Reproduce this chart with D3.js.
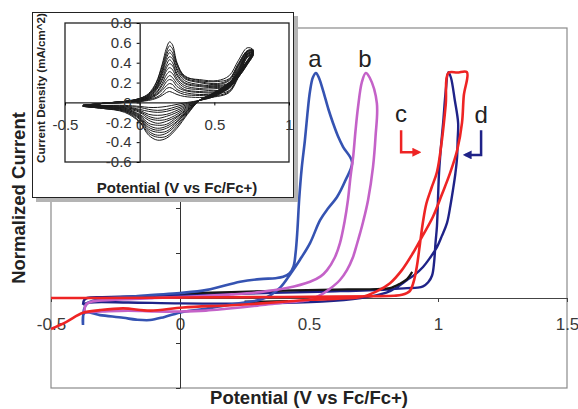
<!DOCTYPE html>
<html>
<head>
<meta charset="utf-8">
<script src="https://cdn.jsdelivr.net/npm/d3@7/dist/d3.min.js"></script>
<style>
    body { margin: 0; background: #fff; }
    svg { display: block; font-family: "Liberation Sans", Arial, sans-serif; }
</style>
</head>
<body>
<div id="chart"></div>
<script>
// ---- main chart data: [potential (V), normalized current] ----
var curveA = [
    [-0.376, -0.6], [-0.372, -0.25], [-0.36, -0.12], [-0.32, -0.04], [-0.22, 0.02], [-0.1, 0.07],
    [0.0, 0.11], [0.105, 0.18], [0.233, 0.36], [0.31, 0.42], [0.37, 0.44], [0.40, 0.47], [0.425, 0.55],
    [0.44, 0.7], [0.448, 1.0], [0.455, 1.5], [0.462, 2.2], [0.472, 2.9], [0.484, 3.5], [0.494, 4.1],
    [0.504, 4.6], [0.515, 4.9], [0.527, 5.0], [0.538, 4.9], [0.554, 4.62], [0.575, 4.2], [0.593, 3.89],
    [0.612, 3.6], [0.632, 3.36], [0.667, 3.02],
    [0.64, 2.6], [0.608, 2.24], [0.575, 2.0], [0.543, 1.73], [0.504, 1.22], [0.465, 0.85], [0.43, 0.55],
    [0.39, 0.24], [0.35, 0.06], [0.31, -0.04], [0.25, -0.1], [0.18, -0.16], [0.1, -0.24], [0.01, -0.31],
    [-0.06, -0.42], [-0.116, -0.49], [-0.17, -0.48], [-0.22, -0.44], [-0.31, -0.38], [-0.37, -0.33], [-0.376, -0.6]
];
var curveB = [
    [-0.37, -0.32], [-0.365, -0.15], [-0.34, -0.08], [-0.25, -0.04], [-0.1, 0.0], [0.0, 0.02], [0.1, 0.05],
    [0.2, 0.08], [0.31, 0.13], [0.414, 0.22], [0.504, 0.36], [0.545, 0.48], [0.57, 0.62], [0.6, 0.9],
    [0.62, 1.22], [0.638, 1.7], [0.651, 2.18], [0.661, 2.7], [0.671, 3.13], [0.68, 3.7], [0.69, 4.24],
    [0.705, 4.8], [0.72, 5.0], [0.735, 4.9], [0.763, 4.33],
    [0.758, 3.6], [0.748, 2.91], [0.729, 2.18], [0.71, 1.7], [0.698, 1.44], [0.686, 1.2], [0.67, 0.9],
    [0.647, 0.62], [0.62, 0.4], [0.58, 0.2], [0.54, 0.05], [0.504, -0.04], [0.45, -0.08], [0.39, -0.11],
    [0.3, -0.17], [0.18, -0.24], [0.1, -0.28], [0.0, -0.3], [-0.1, -0.3], [-0.2, -0.28], [-0.3, -0.3], [-0.37, -0.32]
];
var curveC = [
    [-0.5, 0.0], [-0.3, 0.0], [0.0, 0.01], [0.3, 0.02], [0.6, 0.03], [0.75, 0.04], [0.83, 0.05],
    [0.86, 0.07], [0.89, 0.15], [0.905, 0.35], [0.918, 0.7], [0.93, 1.2], [0.942, 1.7], [0.955, 2.1],
    [0.975, 2.45], [0.996, 2.8], [1.015, 3.5], [1.03, 4.3], [1.04, 5.0], [1.075, 5.01], [1.112, 5.02],
    [1.1, 4.5], [1.093, 3.89], [1.075, 3.3], [1.047, 2.78], [1.015, 2.3], [0.98, 1.8], [0.94, 1.38],
    [0.903, 1.0], [0.86, 0.62], [0.814, 0.33], [0.76, 0.14], [0.709, 0.03], [0.6, -0.02], [0.504, -0.04],
    [0.39, -0.09], [0.2, -0.16], [0.012, -0.21], [-0.116, -0.28], [-0.22, -0.23], [-0.31, -0.27],
    [-0.376, -0.33], [-0.44, -0.53], [-0.5, -0.69]
];
var curveD = [
    [-0.376, -0.15], [-0.372, -0.05], [-0.36, 0.0], [-0.3, 0.02], [-0.1, 0.05], [0.1, 0.08], [0.4, 0.12],
    [0.6, 0.15], [0.8, 0.19], [0.88, 0.22], [0.92, 0.23], [0.942, 0.26], [0.962, 0.35], [0.977, 0.5],
    [0.985, 0.8], [0.99, 1.2], [0.996, 1.6], [1.0, 2.2], [1.004, 2.78], [1.012, 3.4], [1.02, 3.9],
    [1.03, 4.6], [1.04, 5.02], [1.05, 4.9], [1.065, 4.4], [1.078, 3.89],
    [1.076, 3.5], [1.074, 3.13], [1.067, 2.75], [1.058, 2.4], [1.048, 2.05], [1.035, 1.67], [1.015, 1.38],
    [0.996, 1.13], [0.97, 0.9], [0.942, 0.69], [0.91, 0.52], [0.88, 0.4], [0.841, 0.24], [0.8, 0.12],
    [0.7, 0.0], [0.55, -0.08], [0.3, -0.12], [0.0, -0.12], [-0.2, -0.1], [-0.35, -0.1], [-0.376, -0.15]
];
var blankUpper = [
    [0.0, 0.1], [0.2, 0.13], [0.44, 0.17], [0.65, 0.19], [0.764, 0.2], [0.814, 0.22], [0.853, 0.32],
    [0.88, 0.42], [0.9, 0.58]
];
var blankLower = [[0.25, -0.08], [0.33, -0.08], [0.42, -0.07]];

var mainXTicks = [-0.5, 0, 0.5, 1, 1.5];
var mainYTicks = [-2, -1, 0, 1, 2, 3, 4, 5, 6];
var curveLabels = ["a", "b", "c", "d"];

// ---- inset data: repeated cycles, current density (mA/cm^2) ----
var insetFwdE = [-0.38, -0.25, -0.1, 0.0, 0.06, 0.11, 0.15, 0.18, 0.2, 0.22, 0.25, 0.3, 0.4, 0.52, 0.6, 0.66, 0.72, 0.76];
var insetRevE = [0.76, 0.72, 0.66, 0.6, 0.5, 0.4, 0.32, 0.25, 0.18, 0.12, 0.06, 0.0, -0.1, -0.25, -0.38];
var insetFwd = [
    [-0.03, -0.01, 0.0, 0.01, 0.02, 0.04, 0.07, 0.1, 0.11, 0.1, 0.08, 0.06, 0.05, 0.06, 0.1, 0.25, 0.45, 0.48],
    [-0.03, -0.01, 0.0, 0.01, 0.03, 0.05, 0.09, 0.14, 0.15, 0.14, 0.11, 0.08, 0.07, 0.07, 0.11, 0.26, 0.46, 0.48],
    [-0.03, -0.01, 0.0, 0.01, 0.03, 0.07, 0.12, 0.17, 0.19, 0.18, 0.13, 0.1, 0.08, 0.09, 0.12, 0.27, 0.46, 0.49],
    [-0.03, -0.01, 0.0, 0.02, 0.04, 0.08, 0.14, 0.21, 0.23, 0.22, 0.16, 0.12, 0.1, 0.1, 0.14, 0.29, 0.47, 0.49],
    [-0.03, -0.01, 0.0, 0.02, 0.04, 0.09, 0.17, 0.24, 0.27, 0.25, 0.19, 0.13, 0.11, 0.11, 0.15, 0.3, 0.48, 0.5],
    [-0.03, -0.01, 0.0, 0.02, 0.05, 0.1, 0.19, 0.28, 0.31, 0.29, 0.22, 0.15, 0.13, 0.12, 0.16, 0.31, 0.48, 0.5],
    [-0.03, -0.01, 0.01, 0.02, 0.05, 0.12, 0.22, 0.32, 0.35, 0.33, 0.24, 0.17, 0.14, 0.14, 0.17, 0.32, 0.49, 0.5],
    [-0.04, -0.01, 0.01, 0.03, 0.06, 0.13, 0.24, 0.35, 0.39, 0.37, 0.27, 0.19, 0.16, 0.15, 0.18, 0.33, 0.49, 0.51],
    [-0.04, -0.01, 0.01, 0.03, 0.06, 0.14, 0.27, 0.38, 0.43, 0.4, 0.29, 0.2, 0.17, 0.16, 0.19, 0.34, 0.5, 0.51],
    [-0.04, -0.01, 0.01, 0.03, 0.07, 0.15, 0.29, 0.42, 0.46, 0.44, 0.32, 0.22, 0.18, 0.17, 0.2, 0.36, 0.51, 0.52],
    [-0.04, -0.01, 0.01, 0.03, 0.07, 0.16, 0.31, 0.45, 0.5, 0.47, 0.34, 0.24, 0.2, 0.18, 0.22, 0.37, 0.51, 0.52],
    [-0.04, -0.01, 0.01, 0.04, 0.08, 0.17, 0.33, 0.48, 0.53, 0.5, 0.37, 0.25, 0.21, 0.19, 0.23, 0.38, 0.52, 0.52],
    [-0.04, -0.01, 0.01, 0.04, 0.08, 0.19, 0.36, 0.51, 0.57, 0.54, 0.39, 0.27, 0.22, 0.21, 0.24, 0.39, 0.52, 0.53],
    [-0.04, -0.01, 0.01, 0.04, 0.09, 0.2, 0.38, 0.55, 0.61, 0.58, 0.4, 0.26, 0.23, 0.22, 0.27, 0.42, 0.55, 0.53]
];
var insetRev = [
    [0.48, 0.38, 0.25, 0.15, 0.06, 0.02, 0.0, -0.02, -0.04, -0.05, -0.05, -0.04, -0.03, -0.03, -0.03],
    [0.48, 0.38, 0.25, 0.15, 0.06, 0.02, -0.01, -0.04, -0.07, -0.08, -0.07, -0.05, -0.04, -0.03, -0.03],
    [0.49, 0.39, 0.26, 0.16, 0.07, 0.02, -0.02, -0.06, -0.09, -0.1, -0.09, -0.07, -0.04, -0.03, -0.03],
    [0.49, 0.39, 0.26, 0.16, 0.07, 0.02, -0.03, -0.08, -0.12, -0.13, -0.12, -0.08, -0.05, -0.04, -0.03],
    [0.5, 0.39, 0.27, 0.17, 0.07, 0.02, -0.04, -0.1, -0.14, -0.16, -0.14, -0.09, -0.05, -0.04, -0.03],
    [0.5, 0.4, 0.27, 0.17, 0.08, 0.02, -0.05, -0.12, -0.17, -0.18, -0.16, -0.1, -0.06, -0.04, -0.03],
    [0.5, 0.4, 0.27, 0.17, 0.08, 0.02, -0.06, -0.14, -0.19, -0.21, -0.18, -0.12, -0.06, -0.04, -0.03],
    [0.51, 0.4, 0.28, 0.18, 0.08, 0.02, -0.07, -0.15, -0.22, -0.23, -0.21, -0.13, -0.07, -0.05, -0.04],
    [0.51, 0.41, 0.28, 0.18, 0.09, 0.02, -0.08, -0.17, -0.24, -0.26, -0.23, -0.14, -0.07, -0.05, -0.04],
    [0.52, 0.41, 0.29, 0.19, 0.09, 0.02, -0.08, -0.19, -0.26, -0.28, -0.25, -0.15, -0.08, -0.05, -0.04],
    [0.52, 0.41, 0.29, 0.19, 0.09, 0.02, -0.09, -0.2, -0.29, -0.3, -0.27, -0.16, -0.08, -0.05, -0.04],
    [0.52, 0.41, 0.29, 0.19, 0.09, 0.02, -0.1, -0.22, -0.31, -0.33, -0.29, -0.17, -0.09, -0.06, -0.04],
    [0.53, 0.42, 0.3, 0.2, 0.1, 0.02, -0.11, -0.24, -0.34, -0.35, -0.31, -0.19, -0.09, -0.06, -0.04],
    [0.53, 0.42, 0.3, 0.2, 0.1, 0.02, -0.12, -0.26, -0.36, -0.38, -0.33, -0.2, -0.1, -0.06, -0.04]
];
var insetXTicks = [-0.5, 0, 0.5, 1];
var insetYTicks = [-0.6, -0.4, -0.2, 0, 0.2, 0.4, 0.6, 0.8];

function init() {
    var w = 578, h = 409;

    var svg = d3.select("#chart").append("svg")
        .attr("width", w)
        .attr("height", h);

    // main plot scales
    var x = d3.scaleLinear().domain([-0.5, 1.5]).range([51, 567]);
    var y = d3.scaleLinear().domain([-2, 6]).range([388, 28]);

    var line = d3.line()
        .x(function(d) { return x(d[0]); })
        .y(function(d) { return y(d[1]); })
        .curve(d3.curveCatmullRom.alpha(0.5));

    // plot frame
    svg.append("rect")
        .attr("x", x(-0.5)).attr("y", y(6))
        .attr("width", x(1.5) - x(-0.5)).attr("height", y(-2) - y(6))
        .attr("fill", "none").attr("stroke", "#8a8a8a").attr("stroke-width", 1.2);

    // x axis through zero current
    var xAxis = svg.append("g")
        .attr("transform", "translate(0," + y(0) + ")")
        .call(d3.axisBottom(x).tickValues(mainXTicks).tickSize(4).tickSizeOuter(0)
            .tickFormat(function(d) { return String(d); }));
    xAxis.select(".domain").attr("stroke", "#444");
    xAxis.selectAll(".tick line").attr("stroke", "#444");
    xAxis.selectAll("text")
        .attr("y", 20)
        .attr("fill", "#3a3a3a")
        .style("font-size", "17px");

    // y axis through zero potential, ticks only
    var yAxis = svg.append("g")
        .attr("transform", "translate(" + x(0) + ",0)")
        .call(d3.axisLeft(y).tickValues(mainYTicks).tickSize(4).tickSizeOuter(0).tickFormat(""));
    yAxis.select(".domain").attr("stroke", "#333");
    yAxis.selectAll(".tick line").attr("stroke", "#333");

    // curves
    var series = [
        { data: curveD, color: "#1f2388", width: 2.4 },
        { data: blankUpper, color: "#151515", width: 2.2 },
        { data: blankLower, color: "#151515", width: 2.2 },
        { data: curveA, color: "#3553b2", width: 2.6 },
        { data: curveB, color: "#c462c8", width: 2.6 },
        { data: curveC, color: "#ee2424", width: 2.6 }
    ];
    svg.selectAll(".cv")
        .data(series)
        .enter()
        .append("path")
        .attr("class", "cv")
        .attr("d", function(d) { return line(d.data); })
        .attr("fill", "none")
        .attr("stroke", function(d) { return d.color; })
        .attr("stroke-width", function(d) { return d.width; })
        .attr("stroke-linejoin", "round");

    // curve letters
    var labelPos = [[0.523, 5.13], [0.717, 5.13], [0.857, 3.91], [1.167, 3.89]];
    svg.selectAll(".lab")
        .data(curveLabels)
        .enter()
        .append("text")
        .attr("class", "lab")
        .attr("x", function(d, i) { return x(labelPos[i][0]); })
        .attr("y", function(d, i) { return y(labelPos[i][1]); })
        .attr("text-anchor", "middle")
        .attr("fill", "#222")
        .style("font-size", "24px")
        .text(function(d) { return d; });

    // bent arrows next to c and d
    var defs = svg.append("defs");
    [["arrRed", "#ee2424"], ["arrNavy", "#1f2388"]].forEach(function(m) {
        defs.append("marker")
            .attr("id", m[0])
            .attr("viewBox", "0 0 10 10")
            .attr("refX", 7).attr("refY", 5)
            .attr("markerWidth", 3.6).attr("markerHeight", 3.6)
            .attr("orient", "auto")
            .append("path")
            .attr("d", "M0,0L10,5L0,10z")
            .attr("fill", m[1]);
    });
    var arrowLine = d3.line()
        .x(function(d) { return x(d[0]); })
        .y(function(d) { return y(d[1]); });
    svg.append("path")
        .attr("d", arrowLine([[0.857, 3.73], [0.857, 3.24], [0.925, 3.24]]))
        .attr("fill", "none").attr("stroke", "#ee2424").attr("stroke-width", 2.5)
        .attr("marker-end", "url(#arrRed)");
    svg.append("path")
        .attr("d", arrowLine([[1.167, 3.73], [1.167, 3.18], [1.106, 3.18]]))
        .attr("fill", "none").attr("stroke", "#1f2388").attr("stroke-width", 2.5)
        .attr("marker-end", "url(#arrNavy)");

    // axis titles
    svg.append("text")
        .attr("x", 309).attr("y", 404)
        .attr("text-anchor", "middle")
        .attr("fill", "#222")
        .style("font-size", "18.5px").style("font-weight", "bold")
        .text("Potential (V vs Fc/Fc+)");
    svg.append("text")
        .attr("transform", "translate(25,198) rotate(-90)")
        .attr("text-anchor", "middle")
        .attr("fill", "#222")
        .style("font-size", "18.5px").style("font-weight", "bold")
        .text("Normalized Current");

    // ---- inset ----
    var inset = svg.append("g");
    inset.append("rect")
        .attr("x", 36).attr("y", 16).attr("width", 262).attr("height", 186)
        .attr("fill", "#b4b4b4");
    inset.append("rect")
        .attr("x", 32.5).attr("y", 12.5).attr("width", 261).attr("height", 185)
        .attr("fill", "#fff").attr("stroke", "#222").attr("stroke-width", 1);

    var xi = d3.scaleLinear().domain([-0.5, 1]).range([65, 289]);
    var yi = d3.scaleLinear().domain([-0.6, 0.8]).range([162, 23]);

    inset.append("rect")
        .attr("x", xi(-0.5)).attr("y", yi(0.8))
        .attr("width", xi(1) - xi(-0.5)).attr("height", yi(-0.6) - yi(0.8))
        .attr("fill", "none").attr("stroke", "#222").attr("stroke-width", 1.3);

    var cycleLine = d3.line()
        .x(function(d) { return xi(d[0]); })
        .y(function(d) { return yi(d[1]); })
        .curve(d3.curveCatmullRom.alpha(0.5));

    // join each cycle's forward and reverse sweep into one trace
    var cycles = insetFwd.map(function(f, k) {
        var pts = insetFwdE.map(function(e, j) { return [e, f[j]]; });
        return pts.concat(insetRevE.slice(1).map(function(e, j) { return [e, insetRev[k][j + 1]]; }));
    });
    inset.selectAll(".cyc")
        .data(cycles)
        .enter()
        .append("path")
        .attr("class", "cyc")
        .attr("d", cycleLine)
        .attr("fill", "none")
        .attr("stroke", "#1a1a1a")
        .attr("stroke-width", 1);

    var xiAxis = inset.append("g")
        .attr("transform", "translate(0," + yi(0) + ")")
        .call(d3.axisBottom(xi).tickValues(insetXTicks).tickSize(3).tickSizeOuter(0)
            .tickFormat(function(d) { return String(d); }));
    xiAxis.select(".domain").attr("stroke", "#222").attr("stroke-width", 1.3);
    xiAxis.selectAll("text")
        .attr("y", 17)
        .attr("fill", "#333")
        .style("font-size", "15px");

    var yiAxis = inset.append("g")
        .attr("transform", "translate(" + xi(0) + ",0)")
        .call(d3.axisLeft(yi).tickValues(insetYTicks).tickSize(3).tickPadding(5).tickSizeOuter(0)
            .tickFormat(function(d) { return String(d); }));
    yiAxis.select(".domain").attr("stroke", "#222").attr("stroke-width", 1.3);
    yiAxis.selectAll("text")
        .attr("fill", "#333")
        .style("font-size", "15px");

    inset.append("text")
        .attr("x", 177).attr("y", 193)
        .attr("text-anchor", "middle")
        .attr("fill", "#222")
        .style("font-size", "15px").style("font-weight", "bold")
        .text("Potential (V vs Fc/Fc+)");
    inset.append("text")
        .attr("transform", "translate(45,88) rotate(-90)")
        .attr("text-anchor", "middle")
        .attr("fill", "#222")
        .style("font-size", "11.6px").style("font-weight", "bold")
        .text("Current Density (mA/cm^2)");
}

window.onload = init;
</script>
</body>
</html>
